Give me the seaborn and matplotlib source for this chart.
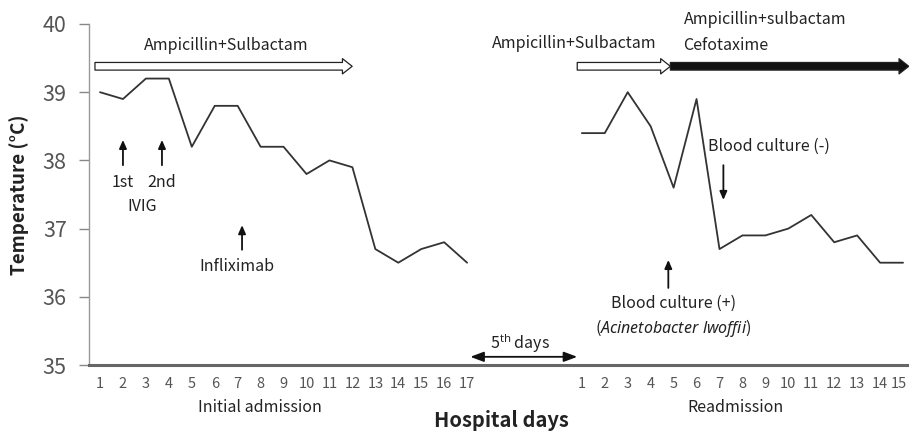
import numpy as np
import pandas as pd
import matplotlib as mpl
mpl.use('Agg')
import seaborn as sns
import matplotlib.pyplot as plt
from matplotlib.transforms import ScaledTranslation

sns.set_style('white')
plt.rcParams['font.family'] = ['Noto Sans CJK KR', 'DejaVu Sans']
plt.rcParams['mathtext.fontset'] = 'custom'
plt.rcParams['mathtext.rm'] = 'Noto Sans'
plt.rcParams['mathtext.it'] = 'Noto Sans:italic'

# body temperature per hospital day
initial_days = list(range(1, 18))
initial_temp = [39.0, 38.9, 39.2, 39.2, 38.2, 38.8, 38.8, 38.2, 38.2, 37.8,
                38.0, 37.9, 36.7, 36.5, 36.7, 36.8, 36.5]
readm_days = list(range(1, 16))
readm_temp = [38.4, 38.4, 39.0, 38.5, 37.6, 38.9, 36.7, 36.9, 36.9, 37.0,
              37.2, 36.8, 36.9, 36.5, 36.5]
gap_days = 5  # days between discharge and readmission

readm_pos = [d + initial_days[-1] + gap_days - 1 for d in readm_days]

df = pd.concat([
    pd.DataFrame({'pos': initial_days, 'temp': initial_temp, 'stay': 'Initial admission'}),
    pd.DataFrame({'pos': readm_pos, 'temp': readm_temp, 'stay': 'Readmission'}),
])

fig, ax = plt.subplots(figsize=(9.09, 4.34), dpi=100)
fig.subplots_adjust(left=89 / 909, right=1.0, bottom=69 / 434, top=1 - 24 / 434)

sns.lineplot(data=df, x='pos', y='temp', hue='stay', palette=['#333333', '#333333'],
             legend=False, lw=1.3, ax=ax)

ax.set_xlim(0.52, 36.26)
ax.set_ylim(35, 40)
ax.set_yticks([35, 36, 37, 38, 39, 40])
ax.set_xticks(initial_days + readm_pos, [str(d) for d in initial_days + readm_days])
ax.tick_params(axis='x', length=0, pad=9, labelsize=10.5, labelcolor='#555555')
ax.tick_params(axis='y', length=7, width=1, color='#888888', pad=9, labelsize=15.5,
               labelcolor='#555555', left=True)
# last label sits on the right edge, nudge it in
last = ax.get_xticklabels()[-1]
last.set_transform(last.get_transform() + ScaledTranslation(-4 / 100, 0, fig.dpi_scale_trans))
for s in ['top', 'right']:
    ax.spines[s].set_visible(False)
ax.spines['left'].set_color('#999999')
ax.spines['left'].set_linewidth(1)
ax.spines['bottom'].set_color('#666666')
ax.spines['bottom'].set_linewidth(2.2)

ax.set_xlabel('')
ax.set_ylabel('Temperature (°C)', fontsize=13.5, fontweight='bold', color='#222222')
ax.yaxis.set_label_coords(-0.073, 0.5)

txt = dict(fontsize=11.5, color='#222222', ha='center', va='center', clip_on=False)

def block_arrow(x0, x1, y, fc):
    ax.annotate('', xy=(x1, y), xytext=(x0, y), annotation_clip=False,
                arrowprops=dict(arrowstyle='simple,head_length=0.7,head_width=1.1,tail_width=0.55',
                                fc=fc, ec='#222222', lw=0.9, shrinkA=0, shrinkB=0,
                                mutation_scale=10))

def thin_arrow(x, y0, y1):
    ax.annotate('', xy=(x, y1), xytext=(x, y0), annotation_clip=False,
                arrowprops=dict(arrowstyle='-|>,head_length=0.5,head_width=0.22',
                                fc='#111111', ec='#111111', lw=1.3,
                                shrinkA=0, shrinkB=0, mutation_scale=10))

# antibiotics
block_arrow(0.78, 11.99, 39.38, 'white')
ax.text(6.49, 39.68, 'Ampicillin+Sulbactam', **txt)
block_arrow(21.8, 25.86, 39.38, 'white')
ax.text(21.67, 39.72, 'Ampicillin+Sulbactam', **txt)
block_arrow(25.86, 36.25, 39.38, '#111111')
ax.text(26.43, 40.06, 'Ampicillin+sulbactam', **{**txt, 'ha': 'left'})
ax.text(26.43, 39.68, 'Cefotaxime', **{**txt, 'ha': 'left'})

# IVIG and infliximab
thin_arrow(2.0, 37.93, 38.30)
thin_arrow(3.70, 37.93, 38.30)
ax.text(2.0, 37.68, '1st', **txt)
ax.text(3.70, 37.68, '2nd', **txt)
ax.text(2.83, 37.33, 'IVIG', **txt)
thin_arrow(7.19, 36.69, 37.05)
ax.text(6.97, 36.44, 'Infliximab', **txt)

# blood cultures
ax.text(27.52, 38.20, 'Blood culture (-)', **{**txt, 'ha': 'left'})
thin_arrow(28.17, 37.93, 37.42)
thin_arrow(25.77, 36.13, 36.54)
ax.text(25.99, 35.91, 'Blood culture (+)', **txt)
ax.text(25.99, 35.54, '(' + r'$\it{Acinetobacter\ lwoffii}$' + ')', **txt)

# gap between stays
ax.annotate('', xy=(21.8, 35.12), xytext=(17.14, 35.12), annotation_clip=False,
            arrowprops=dict(arrowstyle='<|-|>,head_length=0.8,head_width=0.3',
                            fc='#111111', ec='#111111', lw=1.3, shrinkA=0, shrinkB=0,
                            mutation_scale=10))
ax.text(19.3, 35.32, r'5$^{\rm th}$ days', **txt)

ax.text(7.98, 34.37, 'Initial admission', **txt)
ax.text(28.69, 34.37, 'Readmission', **txt)
ax.text(18.5, 34.19, 'Hospital days', **{**txt, 'fontsize': 14.5, 'fontweight': 'bold'})

fig.savefig('out.png', dpi=100)
